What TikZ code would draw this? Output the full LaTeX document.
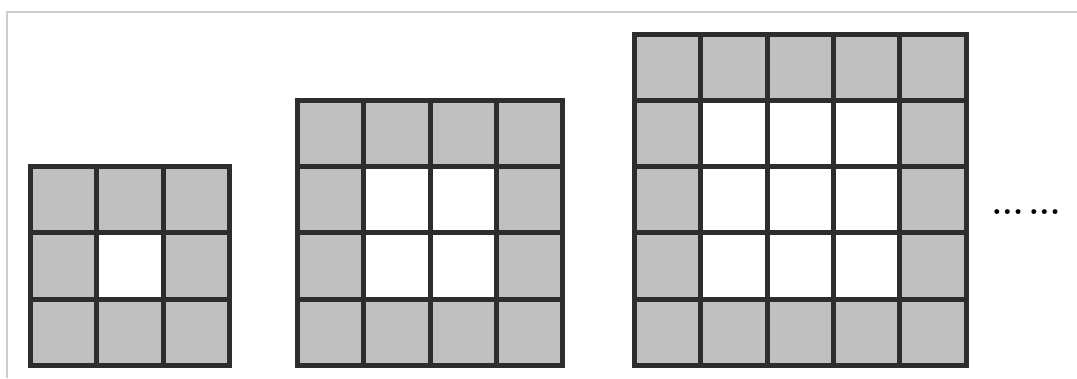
\documentclass[tikz,border=0pt]{standalone}
\usetikzlibrary{positioning}
\definecolor{cellgray}{RGB}{192,192,192}
\definecolor{gridline}{RGB}{45,45,45}
\definecolor{framegray}{RGB}{205,205,205}

\begin{document}
\begin{tikzpicture}[x=1pt, y=-1pt,
  cell/.style={draw=gridline, line width=5pt, minimum size=66.3pt,
               inner sep=0pt, outer sep=0pt, fill=cellgray},
  hole/.style={cell, fill=white}
]
\useasboundingbox (0,0) rectangle (1077,378);
\draw[framegray, line width=1.5pt] (7,378) |- (1077,12);

% three square rings: 3x3, 4x4, 5x5
\foreach \n/\x in {3/30.5, 4/297.5, 5/634.5} {
  \foreach \i in {1,...,\n} {
    \foreach \j in {1,...,\n} {
      \pgfmathtruncatemacro\inside{(\i>1)&&(\i<\n)&&(\j>1)&&(\j<\n)}
      \ifnum\inside=1
        \node[hole] (g\n-\i-\j) at ({\x+(\i-0.5)*66.3}, {365.5-(\n-\j+0.5)*66.3}) {};
      \else
        \node[cell] (g\n-\i-\j) at ({\x+(\i-0.5)*66.3}, {365.5-(\n-\j+0.5)*66.3}) {};
      \fi
    }
  }
}

\node[font=\fontsize{34}{34}\selectfont\bfseries, inner sep=0pt] (more) at (1026,212) {...\hspace{5pt}...};
\end{tikzpicture}
\end{document}
